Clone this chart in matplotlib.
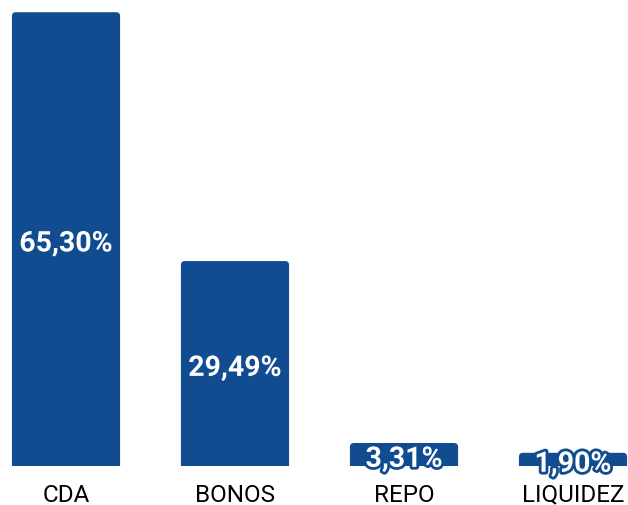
import matplotlib.pyplot as plt
import matplotlib.patheffects as pe
from matplotlib.patches import FancyBboxPatch

categories = ['CDA', 'BONOS', 'REPO', 'LIQUIDEZ']
values = [65.30, 29.49, 3.31, 1.90]
labels = ['65,30%', '29,49%', '3,31%', '1,90%']

blue = '#114c91'
plt.rcParams['font.family'] = ['Roboto', 'DejaVu Sans']

fig = plt.figure(figsize=(6.28, 5.06), dpi=100)
ax = fig.add_axes([0, 39 / 506, 1, 1 - 39 / 506])

x = range(len(categories))
bars = ax.bar(x, values, width=0.64, color=blue)
ax.set_xlim(-0.3905, 3.3254)
ax.set_ylim(0, 67.2)

# swap plain rectangles for ones with rounded corners
px_x = 628 / (3.3254 + 0.3905)
px_y = 467 / 67.2
for b in bars:
    b.set_visible(False)
    r = FancyBboxPatch((b.get_x(), -2), b.get_width(), b.get_height() + 2,
                       boxstyle='round,pad=0,rounding_size=%f' % (4 / px_x),
                       mutation_aspect=px_x / px_y,
                       facecolor=blue, edgecolor='none')
    ax.add_patch(r)

for i, (v, lab) in enumerate(zip(values, labels)):
    ax.text(i, v / 2 - 0.7, lab, ha='center', va='center', color='white',
            fontsize=20.5, fontweight='bold',
            path_effects=[pe.withStroke(linewidth=4, foreground=blue)])

ax.set_xticks(list(x))
ax.set_xticklabels(categories, fontsize=17.5)
ax.tick_params(axis='x', length=0, pad=12)
ax.set_yticks([])
for s in ax.spines.values():
    s.set_visible(False)

fig.savefig('out.png', dpi=100)
